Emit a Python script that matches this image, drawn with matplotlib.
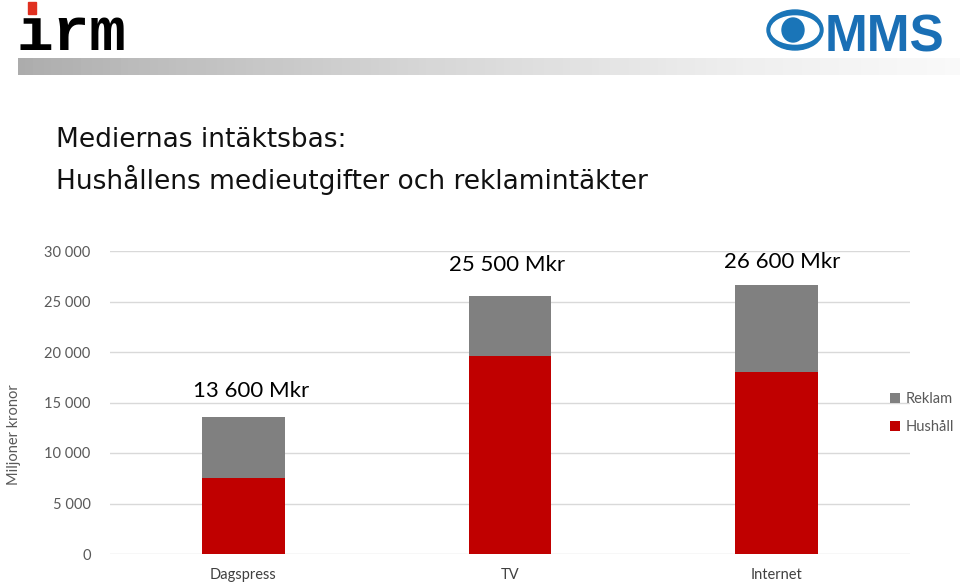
import numpy as np
import matplotlib.pyplot as plt
from matplotlib.patches import Rectangle, Ellipse
from matplotlib.ticker import FuncFormatter

# data
categories = ['Dagspress', 'TV', 'Internet']
hushall = [7500, 19600, 18000]
reklam = [6100, 5900, 8600]
totals = [13600, 25500, 26600]
totals_text = ['13 600 Mkr', '25 500 Mkr', '26 600 Mkr']

RED = '#c00000'
GREY = '#808080'
TXT = '#595959'
CAL = 'Lato'

fig = plt.figure(figsize=(9.6, 5.83), dpi=100)

# header strip: logos + gradient bar
hdr = fig.add_axes([0, 0, 1, 1], zorder=0)
hdr.set_xlim(0, 960)
hdr.set_ylim(583, 0)
hdr.axis('off')
grad = np.linspace(0, 1, 256).reshape(1, -1)
hdr.imshow(grad, cmap='Greys_r', vmin=-1.5, vmax=1.12, extent=(18, 960, 75, 58), aspect='auto')
hdr.text(16, 50, 'irm', family='Liberation Mono', fontweight='bold', fontsize=44,
         color='black', va='baseline', ha='left')
# white-out the i dot, red square in its place
hdr.add_patch(Rectangle((22, 0), 20, 17, color='white', zorder=5))
hdr.add_patch(Rectangle((28, 2), 8, 12, color='#e03020', zorder=6))
hdr.add_patch(Ellipse((795, 30), 56, 40, color='#1a75b8'))
hdr.add_patch(Ellipse((795, 30), 48, 28, color='white'))
hdr.add_patch(Ellipse((793, 30), 22, 24, color='#1a75b8'))
hdr.text(825, 51, 'MMS', family=['Liberation Sans Narrow', 'Liberation Sans'], fontweight='bold',
         fontsize=37, color='#1a6fb5', va='baseline', ha='left')

# titles
fig.text(56, 583 - 140, 'Mediernas intäktsbas:', transform=None, fontsize=19,
         color='#111111', family='DejaVu Sans', va='center')
fig.text(56, 583 - 180, 'Hushållens medieutgifter och reklamintäkter', transform=None,
         fontsize=19, color='#111111', family='DejaVu Sans', va='center')

ax = fig.add_axes([110 / 960, 1 - 554 / 583, 800 / 960, 303 / 583], zorder=1)
ax.patch.set_alpha(0)
x = np.arange(len(categories))
ax.bar(x, hushall, width=0.31, color=RED, label='Hushåll', zorder=3)
ax.bar(x, reklam, width=0.31, bottom=hushall, color=GREY, label='Reklam', zorder=3)

ax.set_xlim(-0.5, 2.5)
ax.set_ylim(0, 30000)
ax.set_yticks(np.arange(0, 30001, 5000))
ax.yaxis.set_major_formatter(FuncFormatter(lambda v, p: f'{int(v):,}'.replace(',', ' ')))
ax.grid(axis='y', color='#d9d9d9', lw=1, zorder=0)
for s in ax.spines.values():
    s.set_visible(False)
ax.tick_params(length=0, colors=TXT, labelsize=10.5, pad=14)
ax.tick_params(axis='x', pad=10, labelsize=10.5)
ax.set_xticks(x)
ax.set_xticklabels(categories, color='#404040')
for lab in ax.get_xticklabels() + ax.get_yticklabels():
    lab.set_family(CAL)

label_off = [(0.03, 2500), (-0.01, 3100), (0.02, 2300)]
for (dx, dy), t, xi, tot in zip(label_off, totals_text, x, totals):
    ax.text(xi + dx, tot + dy, t, ha='center', va='center', fontsize=16, family=CAL, color='black')

fig.text(7, 583 - 435, 'Miljoner kronor', transform=None, rotation=90, fontsize=10.5,
         color=TXT, family=CAL, va='center', ha='left')

h, l = ax.get_legend_handles_labels()
ax.legend(h[::-1], l[::-1], loc='center left', bbox_to_anchor=(0.975, 0.465), frameon=False,
          borderaxespad=0, borderpad=0,
          prop={'family': CAL, 'size': 10.5}, labelcolor=TXT, handlelength=0.7,
          handleheight=0.7, handletextpad=0.4, labelspacing=1.0)

fig.savefig('out.png', dpi=100)
